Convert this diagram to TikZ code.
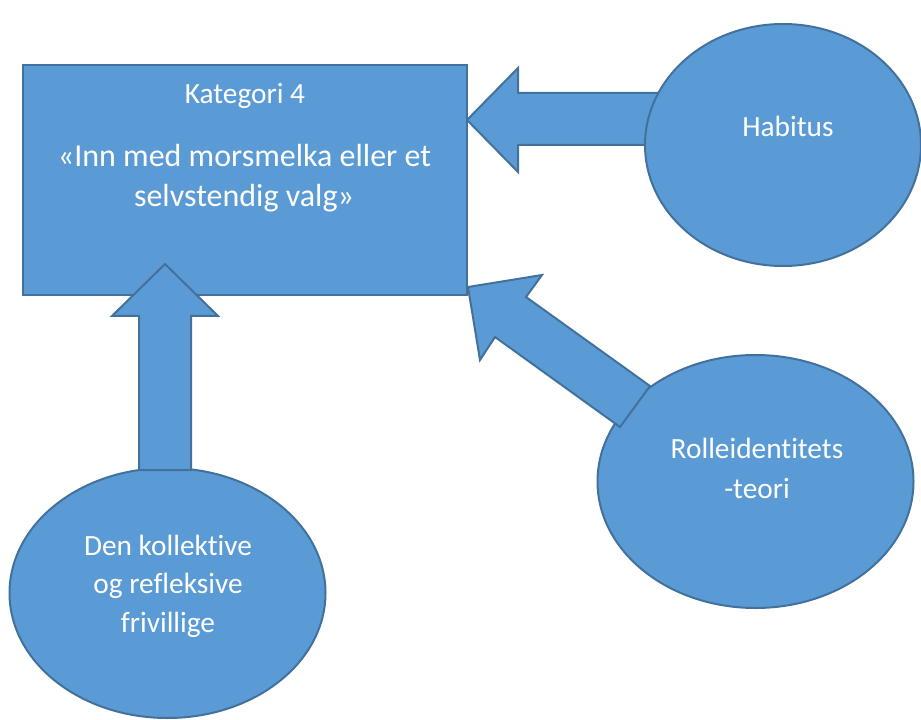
\documentclass[tikz,border=0pt]{standalone}
\usepackage{fontspec}
\setmainfont{Carlito}[Ligatures=NoCommon]
\usetikzlibrary{shapes.geometric}
\definecolor{boxfill}{HTML}{5B9BD5}
\definecolor{boxline}{HTML}{41719C}
\begin{document}
\begin{tikzpicture}[x=0.75pt,y=-0.75pt,
  shapestyle/.style={fill=boxfill,draw=boxline,line width=1.5pt},
  blockarrow/.style={fill=boxfill,draw=boxline,line width=1.5pt,line join=miter},
  txt/.style={text=white,inner sep=0pt,anchor=base,font=\fontsize{22}{26}\selectfont},
  bigtxt/.style={text=white,inner sep=0pt,anchor=base,font=\fontsize{24}{29}\selectfont}]
\useasboundingbox (0,0) rectangle (921,720);
% main box
\node[shapestyle,rectangle,minimum width=444*0.75pt,minimum height=230*0.75pt,inner sep=0pt] (box) at (245,180) {};
% Habitus arrow
\draw[blockarrow] (467,120) -- (518,68) -- (518,93) -- (700,93) -- (700,145) -- (518,145) -- (518,172) -- cycle;
% Habitus ellipse
\node[shapestyle,ellipse,minimum width=276*0.75pt,minimum height=242*0.75pt,inner sep=0pt] (hab) at (783,145) {};
% Rolle ellipse
\node[shapestyle,ellipse,minimum width=316*0.75pt,minimum height=253*0.75pt,inner sep=0pt] (rol) at (755.5,481.5) {};
% Rolle arrow
\draw[blockarrow] (468,287) -- (542,275) -- (526,297) -- (650,386) -- (620,427) -- (495,337) -- (480,360) -- cycle;
% Den ellipse
\node[shapestyle,ellipse,minimum width=316*0.75pt,minimum height=250*0.75pt,inner sep=0pt] (den) at (167.5,593) {};
% Up arrow
\draw[blockarrow] (165,264) -- (218,316) -- (191,316) -- (191,470) -- (139,470) -- (139,316) -- (112,316) -- cycle;
% texts
\node[txt] (t1) at (245,104) {Kategori 4};
\node[bigtxt] (t2) at (244.5,167) {«Inn med morsmelka eller et};
\node[bigtxt] (t3) at (244,207) {selvstendig valg»};
\node[txt] (h1) at (788,137) {Habitus};
\node[txt] (r1) at (757,458) {Rolleidentitets};
\node[txt] (r2) at (757,498) {-teori};
\node[txt] (d1) at (168,555) {Den kollektive};
\node[txt] (d2) at (168,593.5) {og refleksive};
\node[txt] (d3) at (168,632) {frivillige};
\end{tikzpicture}
\end{document}
